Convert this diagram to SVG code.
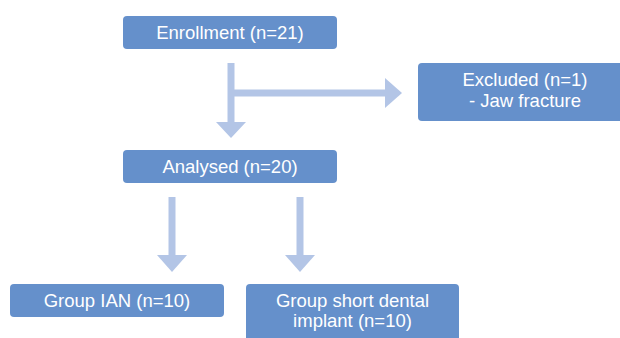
<svg xmlns="http://www.w3.org/2000/svg" width="620" height="338" viewBox="0 0 620 338">
<style>
.box{fill:#6590CB;}
.lbl{font-family:"Liberation Sans",Arial,sans-serif;font-size:18.5px;fill:#FFFFFF;text-anchor:middle;}
.ln{stroke:#B3C5E6;stroke-width:7;fill:none;}
.hd{fill:#B3C5E6;}
</style>
<rect width="620" height="338" fill="#FFFFFF"/>
<g id="connectors">
<line class="ln" x1="231" y1="63" x2="231" y2="123"/>
<polygon class="hd" points="216,122 246,122 231,138"/>
<line class="ln" x1="231" y1="93" x2="386" y2="93"/>
<polygon class="hd" points="385,78 385,108 402,93"/>
<line class="ln" x1="172" y1="197" x2="172" y2="256"/>
<polygon class="hd" points="157,255 187,255 172,272"/>
<line class="ln" x1="300" y1="197" x2="300" y2="256"/>
<polygon class="hd" points="285,255 315,255 300,272"/>
</g>
<g id="enrollment">
<rect class="box" x="123" y="16" width="214" height="33" rx="4"/>
<text class="lbl" x="230" y="38.5">Enrollment (n=21)</text>
</g>
<g id="excluded">
<rect class="box" x="418" y="63" width="214" height="58" rx="4"/>
<text class="lbl" x="525" y="86">Excluded (n=1)</text>
<text class="lbl" x="525" y="107">- Jaw fracture</text>
</g>
<g id="analysed">
<rect class="box" x="123" y="150" width="214" height="33" rx="4"/>
<text class="lbl" x="230" y="172.5">Analysed (n=20)</text>
</g>
<g id="group-ian">
<rect class="box" x="10" y="284" width="214" height="33" rx="4"/>
<text class="lbl" x="117" y="306.5">Group IAN (n=10)</text>
</g>
<g id="group-short">
<rect class="box" x="246" y="284" width="213" height="60" rx="4"/>
<text class="lbl" x="352.5" y="307">Group short dental</text>
<text class="lbl" x="352.5" y="327">implant (n=10)</text>
</g>
</svg>
